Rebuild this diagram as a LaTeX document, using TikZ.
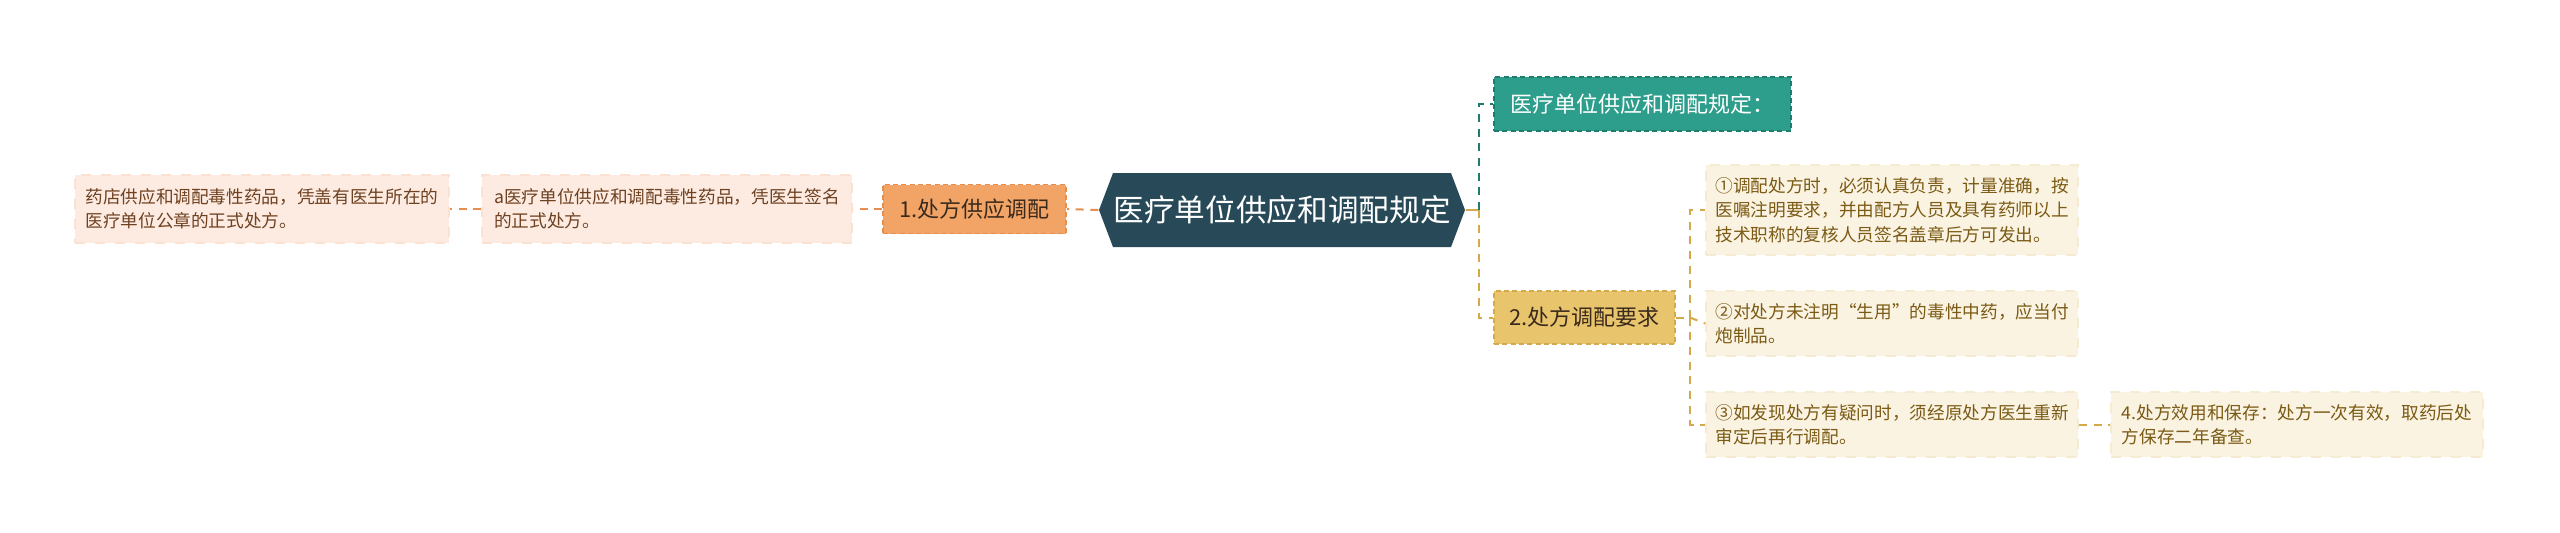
\documentclass[tikz,border=0pt]{standalone}
\usepackage{fontspec}
\newfontfamily\cjk{Noto Sans CJK SC}
\definecolor{cdark}{HTML}{284A58}
\definecolor{corange}{HTML}{F2A466}
\definecolor{corangeb}{HTML}{E58E4E}
\definecolor{cpeach}{HTML}{FDEBE1}
\definecolor{cpeachb}{HTML}{FAE2D3}
\definecolor{cbrown}{HTML}{6E4121}
\definecolor{cteal}{HTML}{2E9E8C}
\definecolor{ctealb}{HTML}{1E7D6E}
\definecolor{cyel}{HTML}{E8C46C}
\definecolor{cyelb}{HTML}{D4A94A}
\definecolor{ccream}{HTML}{FBF3E2}
\definecolor{ccreamb}{HTML}{F5EAD2}
\definecolor{colive}{HTML}{7A5A14}
\definecolor{ctext}{HTML}{3A2A1C}
\tikzset{
  leaf/.style={font=\cjk\fontsize{5.3pt}{7.3pt}\selectfont, align=left, inner sep=0pt, anchor=center},
  peachbox/.style={leaf, fill=cpeach, draw=cpeachb, dashed, line width=0.5pt, text=cbrown},
  creambox/.style={leaf, fill=ccream, draw=ccreamb, dashed, line width=0.5pt, text=colive},
  topic/.style={font=\cjk\fontsize{6.6pt}{8pt}\selectfont, inner sep=0pt, dash pattern=on 1.5pt off 1pt, line width=0.5pt},
  orangeline/.style={draw=corangeb, line width=0.6pt, dash pattern=on 2.4pt off 2pt},
  tealline/.style={draw=ctealb, line width=0.6pt, dash pattern=on 2.4pt off 2pt},
  yelline/.style={draw=cyelb, line width=0.6pt, dash pattern=on 2.4pt off 2pt},
}
\begin{document}
\begin{tikzpicture}[x=0.3pt,y=-0.3pt]
\useasboundingbox (0,0) rectangle (2560,532);
\fill[white] (0,0) rectangle (2560,532);
% center hexagon
\fill[cdark] (1099,210) -- (1113,173) -- (1451,173) -- (1465,210) -- (1451,247) -- (1113,247) -- cycle;
\node[font=\cjk\fontsize{9.2pt}{11pt}\selectfont, text=white, inner sep=0pt, minimum width=366*0.3pt, minimum height=74*0.3pt] (c) at (1282,210) {医疗单位供应和调配规定};
% left side
\node[topic, fill=corange, draw=corangeb, text=ctext, minimum width=183*0.3pt, minimum height=49*0.3pt] (n1) at (974.5,209) {1.处方供应调配};
\node[peachbox, minimum width=370*0.3pt, minimum height=68*0.3pt] (l2) at (667,209) {a医疗单位供应和调配毒性药品，凭医生签名\\的正式处方。};
\node[peachbox, minimum width=374*0.3pt, minimum height=68*0.3pt] (l1) at (262,209) {药店供应和调配毒性药品，凭盖有医生所在的\\医疗单位公章的正式处方。};
% right side
\node[topic, fill=cteal, draw=ctealb, text=white, minimum width=297*0.3pt, minimum height=54*0.3pt] (t1) at (1642.5,104) {医疗单位供应和调配规定：};
\node[topic, fill=cyel, draw=cyelb, text=ctext, minimum width=181*0.3pt, minimum height=53*0.3pt] (t2) at (1584.5,317.5) {2.处方调配要求};
\node[creambox, minimum width=372*0.3pt, minimum height=90*0.3pt] (r1) at (1892,210) {①调配处方时，必须认真负责，计量准确，按\\医嘱注明要求，并由配方人员及具有药师以上\\技术职称的复核人员签名盖章后方可发出。};
\node[creambox, minimum width=372*0.3pt, minimum height=65*0.3pt] (r2) at (1892,323.5) {②对处方未注明“生用”的毒性中药，应当付\\炮制品。};
\node[creambox, minimum width=372*0.3pt, minimum height=65*0.3pt] (r3) at (1892,424.5) {③如发现处方有疑问时，须经原处方医生重新\\审定后再行调配。};
\node[creambox, minimum width=372*0.3pt, minimum height=65*0.3pt] (r4) at (2297,424.5) {4.处方效用和保存：处方一次有效，取药后处\\方保存二年备查。};
% connectors
\coordinate (sp) at (1479,210);
\coordinate (sp2) at (1690,317.5);
\draw[draw=cyelb, line width=0.6pt] (c.east) -- (sp);
\draw[tealline] (sp) |- (t1.west);
\draw[yelline] (sp) |- (t2.west);
\draw[yelline] (t2.east) -- (sp2);
\draw[yelline] (sp2) |- (r1.west);
\draw[yelline] (sp2) -- (r2.west);
\draw[yelline] (sp2) |- (r3.west);
\draw[yelline] (r3.east) -- (r4.west);
\draw[orangeline] (c.west) -- (n1.east);
\draw[orangeline] (n1.west) -- (l2.east);
\draw[orangeline] (l2.west) -- (l1.east);
\end{tikzpicture}
\end{document}
